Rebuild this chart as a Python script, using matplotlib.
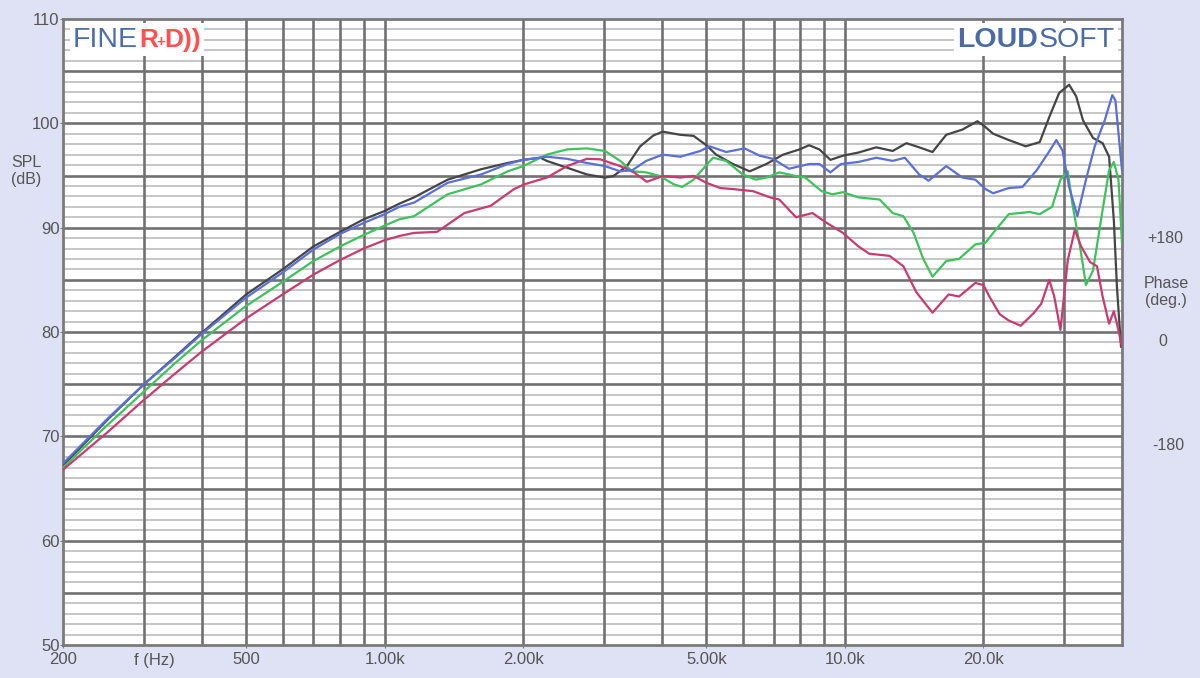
import numpy as np
import matplotlib.pyplot as plt
from matplotlib import transforms

plt.rcParams['font.family'] = ['Liberation Sans', 'DejaVu Sans']

# SPL curves (frequency in Hz, level in dB)
black_f = [200, 250, 300, 350, 400, 500, 600, 700, 800, 900, 1000, 1076, 1158, 1370, 1620, 1850,
           2000, 2180, 2250, 2490, 2750, 3010, 3140, 3360, 3590, 3840, 4020, 4390, 4690, 5000,
           5250, 5710, 6210, 6750, 7340, 7970, 8360, 8800, 9300, 9900, 10700, 11700, 12700,
           13600, 14500, 15500, 16600, 18000, 19400, 20000, 21000, 22700, 24700, 26500, 27800,
           29200, 30700, 31800, 32900, 34600, 36300, 37500, 38400, 39000, 39800]
black_db = [67.2, 71.6, 75.0, 77.6, 79.9, 83.6, 86.0, 88.2, 89.6, 90.8, 91.6, 92.3, 92.9, 94.6, 95.6, 96.2,
            96.5, 96.7, 96.4, 95.75, 95.1, 94.8, 94.95, 95.9, 97.8, 98.85, 99.2, 98.9, 98.8, 97.9,
            97.0, 96.1, 95.4, 96.1, 97.0, 97.5, 97.9, 97.5, 96.5, 96.9, 97.2, 97.7, 97.35,
            98.1, 97.7, 97.25, 98.9, 99.4, 100.2, 99.8, 99.0, 98.4, 97.8, 98.2, 100.6,
            102.9, 103.7, 102.6, 100.3, 98.6, 98.1, 96.8, 90.7, 84.3, 78.6]

blue_f = [200, 250, 300, 350, 400, 500, 600, 700, 800, 900, 1000, 1076, 1158, 1370, 1620, 1850,
          2000, 2250, 2490, 2750, 3010, 3250, 3450, 3700, 4020, 4390, 4850, 5080, 5520, 6050,
          6530, 6970, 7560, 8360, 8800, 9300, 9800, 10700, 11700, 12700, 13500, 14500, 15200,
          16600, 18000, 19200, 20200, 21000, 22700, 24300, 26100, 27600, 28800, 29700, 30700,
          32000, 33400, 34900, 36700, 38100, 38700, 40000]
blue_db = [67.4, 71.7, 75.0, 77.5, 79.8, 83.3, 85.7, 87.9, 89.4, 90.45, 91.3, 92.0, 92.4, 94.3, 95.1, 96.1,
           96.5, 96.8, 96.6, 96.2, 95.9, 95.4, 95.5, 96.4, 97.0, 96.8, 97.35, 97.8, 97.25, 97.6,
           96.9, 96.6, 95.65, 96.1, 96.1, 95.3, 96.1, 96.3, 96.7, 96.4, 96.7, 95.1, 94.5,
           95.9, 94.8, 94.6, 93.7, 93.3, 93.8, 93.9, 95.5, 97.1, 98.4, 97.4, 93.9,
           91.1, 94.6, 97.8, 100.3, 102.7, 102.2, 95.5]

green_f = [200, 250, 300, 350, 400, 500, 600, 700, 800, 900, 1000, 1076, 1158, 1370, 1620, 1850,
           2000, 2250, 2490, 2750, 3010, 3250, 3450, 3700, 3960, 4250, 4430, 4690, 5000, 5170,
           5520, 6000, 6400, 6750, 7200, 7830, 8200, 8900, 9400, 9900, 10700, 11900, 12700,
           13400, 14100, 14800, 15500, 16600, 17700, 19200, 20200, 21000, 22700, 25200, 26500,
           28200, 29400, 30500, 31200, 32500, 33400, 34600, 36300, 37500, 38400, 39300, 40000]
green_db = [67.0, 71.1, 74.3, 77.0, 79.2, 82.5, 84.8, 86.8, 88.2, 89.3, 90.2, 90.8, 91.1, 93.2, 94.15, 95.4,
            95.9, 97.0, 97.5, 97.6, 97.35, 96.4, 95.4, 95.3, 94.95, 94.15, 93.9, 94.6, 96.0, 96.7,
            96.4, 95.1, 94.6, 94.8, 95.3, 94.95, 94.8, 93.5, 93.2, 93.4, 92.9, 92.7, 91.4,
            91.1, 89.5, 87.0, 85.3, 86.8, 87.0, 88.4, 88.55, 89.5, 91.3, 91.5, 91.3,
            92.0, 94.6, 95.4, 92.3, 87.9, 84.5, 85.9, 91.7, 95.5, 96.3, 94.6, 88.5]

magenta_f = [200, 250, 300, 350, 400, 500, 600, 700, 800, 900, 1000, 1076, 1158, 1300, 1490, 1700,
             1910, 2010, 2250, 2490, 2750, 2940, 3250, 3480, 3710, 4020, 4390, 4690, 5000, 5360,
             5710, 6310, 6880, 7200, 7830, 8500, 9100, 9900, 10700, 11300, 12500, 13400, 14300,
             15500, 16800, 17700, 19200, 20000, 20600, 21700, 22700, 24100, 25700, 26700, 27800,
             28500, 29400, 30500, 31600, 32600, 34100, 35300, 36300, 37500, 38400, 39000, 40000]
magenta_db = [66.8, 70.4, 73.5, 76.0, 78.1, 81.3, 83.6, 85.5, 86.9, 88.0, 88.8, 89.2, 89.5, 89.6, 91.4, 92.1,
              93.7, 94.15, 94.8, 95.9, 96.6, 96.55, 95.9, 95.3, 94.4, 94.95, 94.8, 94.95, 94.3, 93.8,
              93.7, 93.5, 92.9, 92.7, 91.0, 91.4, 90.5, 89.5, 88.2, 87.5, 87.3, 86.3, 83.8,
              81.85, 83.6, 83.4, 84.7, 84.5, 83.4, 81.7, 81.1, 80.6, 81.8, 82.7, 85.0,
              83.4, 80.2, 86.9, 89.8, 88.2, 86.7, 86.3, 83.4, 80.8, 82.0, 80.8, 78.6]

x_ticks = [200, 500, 1000, 2000, 5000, 10000, 20000]
x_tick_labels = ['200', '500', '1.00k', '2.00k', '5.00k', '10.0k', '20.0k']
y_ticks = [50, 60, 70, 80, 90, 100, 110]
v_grid = [300, 400, 500, 600, 700, 800, 900, 1000, 2000, 3000, 4000, 5000, 6000, 7000,
          8000, 9000, 10000, 20000, 30000]

grey_text = '#555555'
dark_grid = '#717171'
light_grid = '#c2c2c2'

fig = plt.figure(figsize=(12, 6.78), dpi=100, facecolor='#dee2f4')
ax = fig.add_axes([63/1200, 1 - 645/678, (1122 - 63)/1200, (645 - 19)/678])
ax.set_facecolor('white')
ax.set_xscale('log')
ax.set_xlim(200, 40000)
ax.set_ylim(50, 110)

# grid lines
for y in range(51, 110):
    if y % 5:
        ax.axhline(y, color=light_grid, lw=1.3, zorder=1)
for y in range(55, 110, 5):
    ax.axhline(y, color=dark_grid, lw=1.9, zorder=1.5)
for f in v_grid:
    ax.axvline(f, color=dark_grid, lw=1.9, zorder=1.5)

ax.plot(black_f, black_db, color='#454545', lw=1.6, zorder=3)
ax.plot(green_f, green_db, color='#3dc25c', lw=1.6, zorder=3)
ax.plot(magenta_f, magenta_db, color='#c93a70', lw=1.6, zorder=3)
ax.plot(blue_f, blue_db, color='#5a6fd9', lw=1.6, zorder=3)

for s in ax.spines.values():
    s.set_color('#7a7a7a')
    s.set_linewidth(2)

ax.set_xticks(x_ticks)
ax.set_xticklabels(x_tick_labels)
ax.xaxis.set_minor_locator(plt.NullLocator())
ax.set_yticks(y_ticks)
ax.tick_params(axis='both', colors='#7a7a7a', labelcolor=grey_text, labelsize=12, length=2)
ax.tick_params(axis='y', pad=0.5)
ax.tick_params(axis='x', pad=3)

ax.text(316, -0.0125, 'f (Hz)', transform=transforms.blended_transform_factory(ax.transData, ax.transAxes),
        ha='center', va='top', fontsize=12, color=grey_text)
fig.text(11/1200, 1 - 171/678, 'SPL\n(dB)', ha='left', va='center', fontsize=11.5, color=grey_text,
         linespacing=1.15)

# phase labels on the right
bt = transforms.blended_transform_factory(fig.transFigure, ax.transData)
ax.text(1165/1200, 89.0, '+180', transform=bt, ha='center', va='center', fontsize=11.5, color=grey_text)
ax.text(1166/1200, 83.8, 'Phase\n(deg.)', transform=bt, ha='center', va='center', fontsize=11.5,
        color=grey_text, linespacing=1.15)
ax.text(1163/1200, 79.1, '0', transform=bt, ha='center', va='center', fontsize=11.5, color=grey_text)
ax.text(1168/1200, 69.1, '-180', transform=bt, ha='center', va='center', fontsize=11.5, color=grey_text)

# logos
ax.add_patch(plt.Rectangle((70/1200, 1 - 56/678), 134/1200, 33/678, transform=fig.transFigure,
                           facecolor='white', edgecolor='none', zorder=2))
ax.add_patch(plt.Rectangle((954/1200, 1 - 56/678), 164/1200, 33/678, transform=fig.transFigure,
                           facecolor='white', edgecolor='none', zorder=2))
fig.text(73/1200, 1 - 40/678, 'FINE', ha='left', va='center', fontsize=20.5, color='#4b6cb0', zorder=4)
fig.text(139/1200, 1 - 40/678, 'R', ha='left', va='center', fontsize=19, color='#ff4f4f',
         fontweight='bold', zorder=4)
fig.text(156/1200, 1 - 42/678, '+', ha='left', va='center', fontsize=11, color='#ff4f4f',
         fontweight='bold', zorder=4)
fig.text(164/1200, 1 - 40/678, 'D))', ha='left', va='center', fontsize=19, color='#ff4f4f',
         fontweight='bold', zorder=4)
fig.text(957/1200, 1 - 40/678, 'LOUD', ha='left', va='center', fontsize=20.5, color='#4a6aa8',
         fontweight='bold', zorder=4)
fig.text(1039/1200, 1 - 40/678, 'SOFT', ha='left', va='center', fontsize=20.5, color='#4a6aa8', zorder=4)

fig.savefig('out.png', dpi=100, facecolor=fig.get_facecolor())
